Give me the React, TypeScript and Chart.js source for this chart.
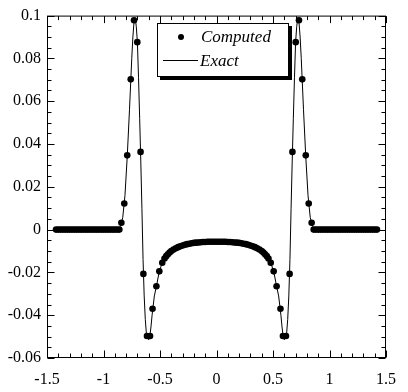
import { useEffect, useRef } from "react";
import { Chart, registerables } from "chart.js";
Chart.register(...registerables);

const computedX = [
  -1.42, -1.4, -1.38, -1.36, -1.34, -1.32, -1.3, -1.28, -1.26, -1.24, -1.22, -1.2, -1.18, -1.16, -1.14,
  -1.12, -1.1, -1.08, -1.06, -1.04, -1.02, -1.0, -0.98, -0.96, -0.94, -0.92, -0.9, -0.88, -0.86,
  -0.842, -0.816, -0.79, -0.759, -0.73, -0.701, -0.672, -0.647, -0.615, -0.588, -0.566, -0.532, -0.506, -0.48,
  -0.46, -0.445, -0.43, -0.415, -0.4, -0.38, -0.36, -0.34, -0.32, -0.3, -0.28, -0.26, -0.24, -0.22, -0.2,
  -0.18, -0.16, -0.14, -0.12, -0.1, -0.08, -0.06, -0.04, -0.02, 0,
  0.02, 0.04, 0.06, 0.08, 0.1, 0.12, 0.14, 0.16, 0.18, 0.2, 0.22, 0.24, 0.26, 0.28, 0.3, 0.32, 0.34, 0.36,
  0.38, 0.4, 0.415, 0.43, 0.445, 0.46,
  0.48, 0.506, 0.532, 0.566, 0.588, 0.615, 0.647, 0.672, 0.701, 0.73, 0.759, 0.79, 0.816, 0.842,
  0.86, 0.88, 0.9, 0.92, 0.94, 0.96, 0.98, 1.0, 1.02, 1.04, 1.06, 1.08, 1.1, 1.12, 1.14, 1.16, 1.18, 1.2,
  1.22, 1.24, 1.26, 1.28, 1.3, 1.32, 1.34, 1.36, 1.38, 1.4, 1.42,
];
const computedY = [
  0, 0, 0, 0, 0, 0, 0, 0, 0, 0, 0, 0, 0, 0, 0,
  0, 0, 0, 0, 0, 0, 0, 0, 0, 0, 0, 0, 0, 0,
  0.0032, 0.0122, 0.0347, 0.0702, 0.0978, 0.0876, 0.0363, -0.0207, -0.0497, -0.0497, -0.037, -0.0265, -0.0195, -0.0155,
  -0.0135, -0.0124, -0.0115, -0.0107, -0.01, -0.0093, -0.0087, -0.0082, -0.0078, -0.0074, -0.0071, -0.0068, -0.0066, -0.0064, -0.0062,
  -0.0061, -0.006, -0.0059, -0.0058, -0.0058, -0.0057, -0.0057, -0.0057, -0.0057, -0.0057,
  -0.0057, -0.0057, -0.0057, -0.0057, -0.0058, -0.0058, -0.0059, -0.006, -0.0061, -0.0062, -0.0064, -0.0066, -0.0068, -0.0071, -0.0074, -0.0078, -0.0082, -0.0087,
  -0.0093, -0.01, -0.0107, -0.0115, -0.0124, -0.0135,
  -0.0155, -0.0195, -0.0265, -0.037, -0.0497, -0.0497, -0.0207, 0.0363, 0.0876, 0.0978, 0.0702, 0.0347, 0.0122, 0.0032,
  0, 0, 0, 0, 0, 0, 0, 0, 0, 0, 0, 0, 0, 0, 0, 0, 0, 0,
  0, 0, 0, 0, 0, 0, 0, 0, 0, 0, 0,
];

const exactX = [
  -1.44, -0.9, -0.87, -0.85, -0.83, -0.81, -0.79, -0.77, -0.75, -0.74, -0.73, -0.72, -0.71, -0.7, -0.69,
  -0.68, -0.67, -0.66, -0.65, -0.64, -0.63, -0.62, -0.61, -0.6, -0.59, -0.58, -0.57, -0.55, -0.53, -0.51,
  -0.49, -0.47, -0.45, -0.42, -0.38, -0.34, -0.3, -0.25, -0.2, -0.15, -0.1, -0.05, 0,
  0.05, 0.1, 0.15, 0.2, 0.25, 0.3, 0.34, 0.38, 0.42, 0.45, 0.47, 0.49,
  0.51, 0.53, 0.55, 0.57, 0.58, 0.59, 0.6, 0.61, 0.62, 0.63, 0.64, 0.65, 0.66, 0.67, 0.68,
  0.69, 0.7, 0.71, 0.72, 0.73, 0.74, 0.75, 0.77, 0.79, 0.81, 0.83, 0.85, 0.87, 0.9, 1.44,
];
const exactY = [
  0, 0, 0.0005, 0.0015, 0.0055, 0.016, 0.034, 0.056, 0.08, 0.09, 0.097, 0.099, 0.095, 0.0876, 0.071,
  0.052, 0.032, 0.01, -0.014, -0.031, -0.042, -0.049, -0.0508, -0.0515, -0.05, -0.0455, -0.04, -0.031, -0.026, -0.0205,
  -0.017, -0.0145, -0.0127, -0.011, -0.0093, -0.0082, -0.0074, -0.0067, -0.0062, -0.006, -0.0058, -0.0057, -0.0057,
  -0.0057, -0.0058, -0.006, -0.0062, -0.0067, -0.0074, -0.0082, -0.0093, -0.011, -0.0127, -0.0145, -0.017,
  -0.0205, -0.026, -0.031, -0.04, -0.0455, -0.05, -0.0515, -0.0508, -0.049, -0.042, -0.031, -0.014, 0.01, 0.032, 0.052,
  0.071, 0.0876, 0.095, 0.099, 0.097, 0.09, 0.08, 0.056, 0.034, 0.016, 0.0055, 0.0015, 0.0005, 0, 0,
];

const xTicks = [-1.5, -1, -0.5, 0, 0.5, 1, 1.5];
const xTickLabels = ["-1.5", "-1", "-0.5", "0", "0.5", "1", "1.5"];
const yTicks = [-0.06, -0.04, -0.02, 0, 0.02, 0.04, 0.06, 0.08, 0.1];
const yTickLabels = ["-0.06", "-0.04", "-0.02", "0", "0.02", "0.04", "0.06", "0.08", "0.1"];
const xMinorStep = 0.1;
const yMinorStep = 0.005;
const legendLabels = ["Computed", "Exact"];

const FONT = "'Liberation Serif', 'Times New Roman', serif";

const framePlugin = {
  id: "frame",
  afterDraw(chart: any) {
    const { ctx, chartArea: a, scales } = chart;
    const xs = scales.x;
    const ys = scales.y;
    ctx.save();
    ctx.strokeStyle = "#000";
    ctx.lineWidth = 1;
    const L = a.left + 0.5, R = a.right - 0.5, T = a.top + 0.5, B = a.bottom - 0.5;
    ctx.strokeRect(L, T, R - L, B - T);
    ctx.beginPath();
    const nx = Math.round((xs.max - xs.min) / xMinorStep);
    for (let i = 0; i <= nx; i++) {
      const v = xs.min + i * xMinorStep;
      const major = xTicks.some((t) => Math.abs(t - v) < 1e-6);
      const len = major ? 7 : 4;
      const px = Math.round(xs.getPixelForValue(v)) + 0.5;
      ctx.moveTo(px, B);
      ctx.lineTo(px, B - len);
      ctx.moveTo(px, T);
      ctx.lineTo(px, T + len);
    }
    const ny = Math.round((ys.max - ys.min) / yMinorStep);
    for (let i = 0; i <= ny; i++) {
      const v = ys.min + i * yMinorStep;
      const major = yTicks.some((t) => Math.abs(t - v) < 1e-6);
      const len = major ? 7 : 4;
      const py = Math.round(ys.getPixelForValue(v)) + 0.5;
      ctx.moveTo(L, py);
      ctx.lineTo(L + len, py);
      ctx.moveTo(R, py);
      ctx.lineTo(R - len, py);
    }
    ctx.stroke();

    // legend box with shadow
    const bx = 157, by = 23, bw = 132, bh = 54;
    ctx.fillStyle = "#000";
    ctx.fillRect(bx + 3, by + 3, bw, bh);
    ctx.fillStyle = "#fff";
    ctx.fillRect(bx, by, bw, bh);
    ctx.strokeStyle = "#000";
    ctx.lineWidth = 1;
    ctx.strokeRect(bx + 0.5, by + 0.5, bw - 1, bh - 1);
    ctx.fillStyle = "#000";
    ctx.beginPath();
    ctx.arc(181, 37, 3, 0, Math.PI * 2);
    ctx.fill();
    ctx.beginPath();
    ctx.moveTo(163, 60.5);
    ctx.lineTo(198, 60.5);
    ctx.stroke();
    ctx.font = "italic 17px " + FONT;
    ctx.textBaseline = "alphabetic";
    ctx.textAlign = "left";
    ctx.fillText(legendLabels[0], 201, 42);
    ctx.fillText(legendLabels[1], 200, 66);
    ctx.restore();
  },
};

export default function App() {
  const ref = useRef<HTMLCanvasElement>(null);
  useEffect(() => {
    document.body.style.margin = "0";
    const computed = computedX.map((x, i) => ({ x, y: computedY[i] }));
    const exact = exactX.map((x, i) => ({ x, y: exactY[i] }));
    const chart = new Chart(ref.current!, {
      type: "scatter",
      data: {
        datasets: [
          {
            label: legendLabels[1],
            data: exact,
            showLine: true,
            borderColor: "#000",
            borderWidth: 1,
            pointRadius: 0,
            tension: 0,
          },
          {
            label: legendLabels[0],
            data: computed,
            showLine: false,
            pointRadius: 3.3,
            pointBackgroundColor: "#000",
            pointBorderWidth: 0,
            backgroundColor: "#000",
          },
        ],
      },
      options: {
        animation: false,
        responsive: false,
        maintainAspectRatio: false,
        layout: { padding: { top: 11, right: 12, left: 0, bottom: 0 } },
        plugins: { legend: { display: false }, tooltip: { enabled: false } },
        scales: {
          x: {
            type: "linear",
            min: -1.5,
            max: 1.5,
            grid: { display: false, drawTicks: false },
            border: { display: false },
            afterBuildTicks: (s: any) => {
              s.ticks = xTicks.map((v) => ({ value: v }));
            },
            afterFit: (s: any) => {
              s.height = 34;
            },
            ticks: {
              padding: 12,
              color: "#000",
              font: { family: FONT, size: 16 },
              maxRotation: 0,
              autoSkip: false,
              callback: (v: any) => {
                const i = xTicks.findIndex((t) => Math.abs(t - v) < 1e-9);
                return i >= 0 ? xTickLabels[i] : "";
              },
            },
          },
          y: {
            type: "linear",
            min: -0.06,
            max: 0.1,
            grid: { display: false, drawTicks: false },
            border: { display: false },
            afterBuildTicks: (s: any) => {
              s.ticks = yTicks.map((v) => ({ value: v }));
            },
            afterFit: (s: any) => {
              s.width = 47;
            },
            ticks: {
              padding: 6,
              color: "#000",
              font: { family: FONT, size: 16 },
              autoSkip: false,
              callback: (v: any) => {
                const i = yTicks.findIndex((t) => Math.abs(t - v) < 1e-9);
                return i >= 0 ? yTickLabels[i] : "";
              },
            },
          },
        },
      },
      plugins: [framePlugin],
    });
    return () => chart.destroy();
  }, []);
  return (
    <div style={{ position: "absolute", left: 0, top: 0, width: 408, height: 392, background: "#fff" }}>
      <canvas ref={ref} width={408} height={392} style={{ display: "block", width: 408, height: 392 }} />
    </div>
  );
}
